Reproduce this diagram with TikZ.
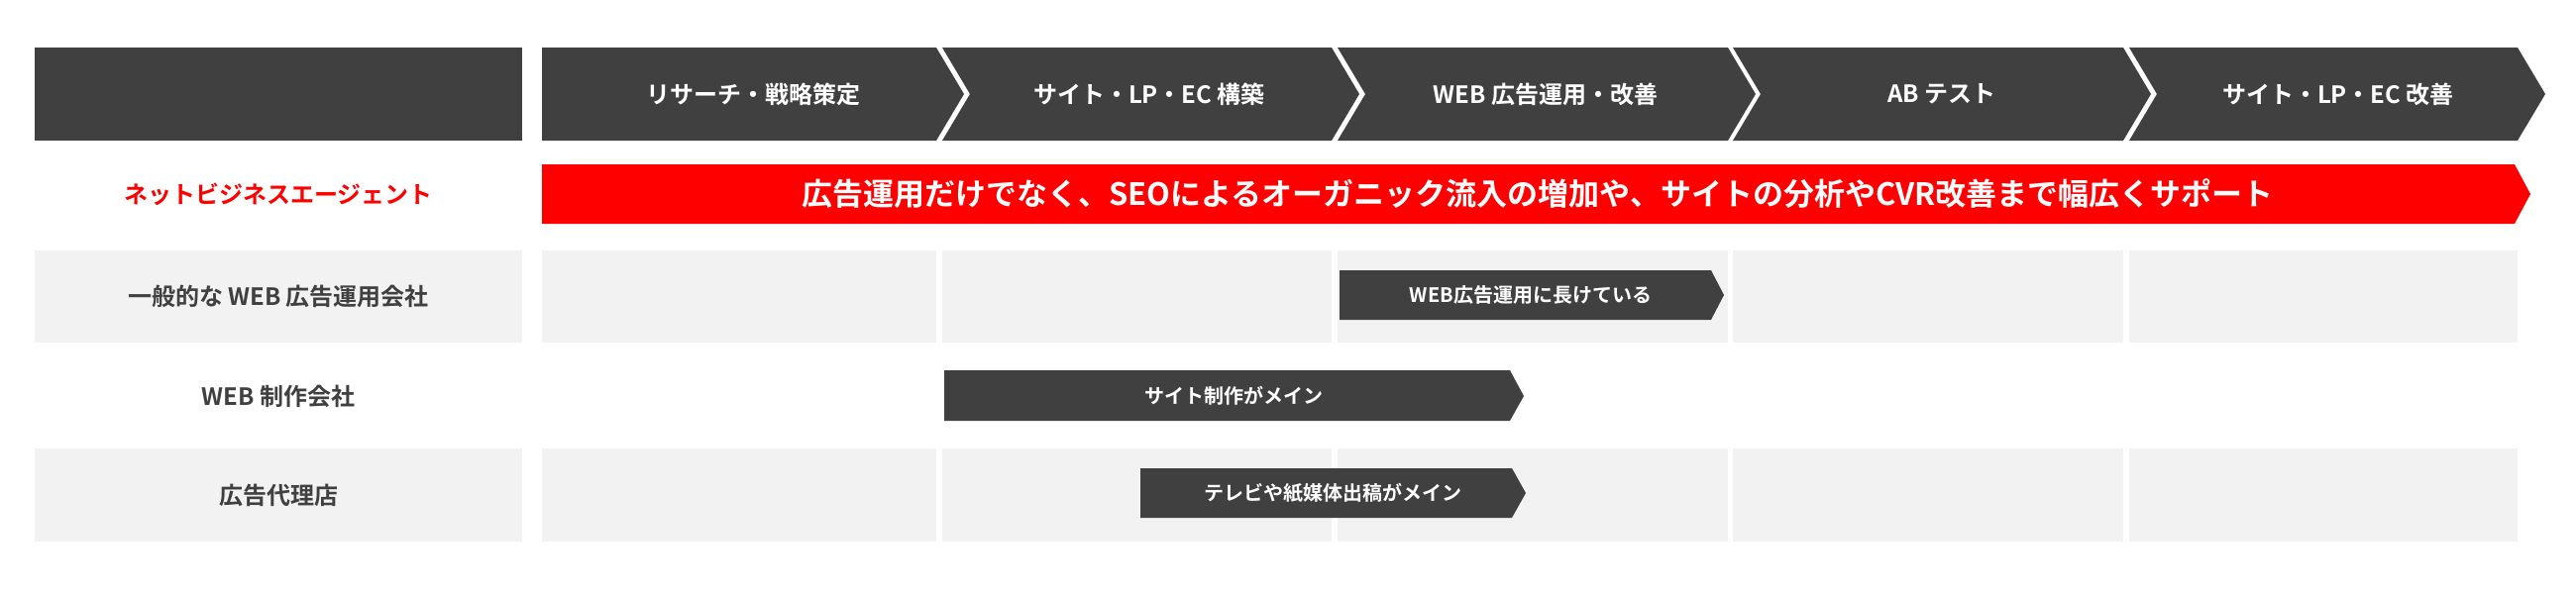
\documentclass[tikz,border=0pt]{standalone}
\usepackage{fontspec}
\setmainfont{Noto Sans CJK JP}[BoldFont={Noto Sans CJK JP Bold}]
\definecolor{dk}{HTML}{404040}
\definecolor{lg}{HTML}{F2F2F2}
\definecolor{rd}{HTML}{FF0000}
\begin{document}
\begin{tikzpicture}[x=1pt,y=-1pt,
  hdr/.style={text=white,font=\fontsize{24}{28}\selectfont\bfseries},
  lbl/.style={text=dk,font=\fontsize{24}{28}\selectfont\bfseries},
  bartxt/.style={text=white,font=\fontsize{20}{24}\selectfont\bfseries}]
\useasboundingbox (0,0) rectangle (2600,600);
\fill[white] (0,0) rectangle (2600,600);
% header label box
\fill[dk] (35,48) rectangle (527,142);
% header chevrons
\fill[dk] (547,48) -- (945,48) -- (973,95) -- (945,142) -- (547,142) -- cycle;
\foreach \L/\R in {951/1344,1350/1744,1749/2143,2149/2541}{
  \fill[dk] (\L,48) -- (\R,48) -- (\R+28,95) -- (\R,142) -- (\L,142) -- (\L+28,95) -- cycle;}
\node[hdr] (h1) at (760,95) {リサーチ・戦略策定};
\node[hdr] (h2) at (1160,95) {サイト・LP・EC 構築};
\node[hdr] (h3) at (1560,95) {WEB 広告運用・改善};
\node[hdr] (h4) at (1960,95) {AB テスト};
\node[hdr] (h5) at (2360,95) {サイト・LP・EC 改善};
% gray rows
\foreach \y/\h in {253/346,453/547}{
  \fill[lg] (35,\y) rectangle (527,\h);
  \foreach \L/\R in {547/945,951/1344,1350/1744,1749/2143,2149/2541}{
    \fill[lg] (\L,\y) rectangle (\R,\h);}}
% row labels
\node[lbl,text=rd] (l0) at (281,196) {ネットビジネスエージェント};
\node[lbl] (l1) at (281,299) {一般的な WEB 広告運用会社};
\node[lbl] (l2) at (281,400) {WEB 制作会社};
\node[lbl] (l3) at (281,500) {広告代理店};
% red bar
\fill[rd] (547,166) -- (2538,166) -- (2554,196) -- (2538,226) -- (547,226) -- cycle;
\node[text=white,font=\fontsize{31}{36}\selectfont\bfseries] (r) at (1552,196) {広告運用だけでなく、SEOによるオーガニック流入の増加や、サイトの分析やCVR改善まで幅広くサポート};
% dark bars
\fill[dk] (1352,273) -- (1727,273) -- (1740,298) -- (1727,323) -- (1352,323) -- cycle;
\node[bartxt] (b1) at (1545,298) {WEB広告運用に長けている};
\fill[dk] (953,374) -- (1524,374) -- (1538,400) -- (1524,425) -- (953,425) -- cycle;
\node[bartxt] (b2) at (1245,400) {サイト制作がメイン};
\fill[dk] (1151,473) -- (1526,473) -- (1540,498) -- (1526,523) -- (1151,523) -- cycle;
\node[bartxt] (b3) at (1345,498) {テレビや紙媒体出稿がメイン};
\end{tikzpicture}
\end{document}
